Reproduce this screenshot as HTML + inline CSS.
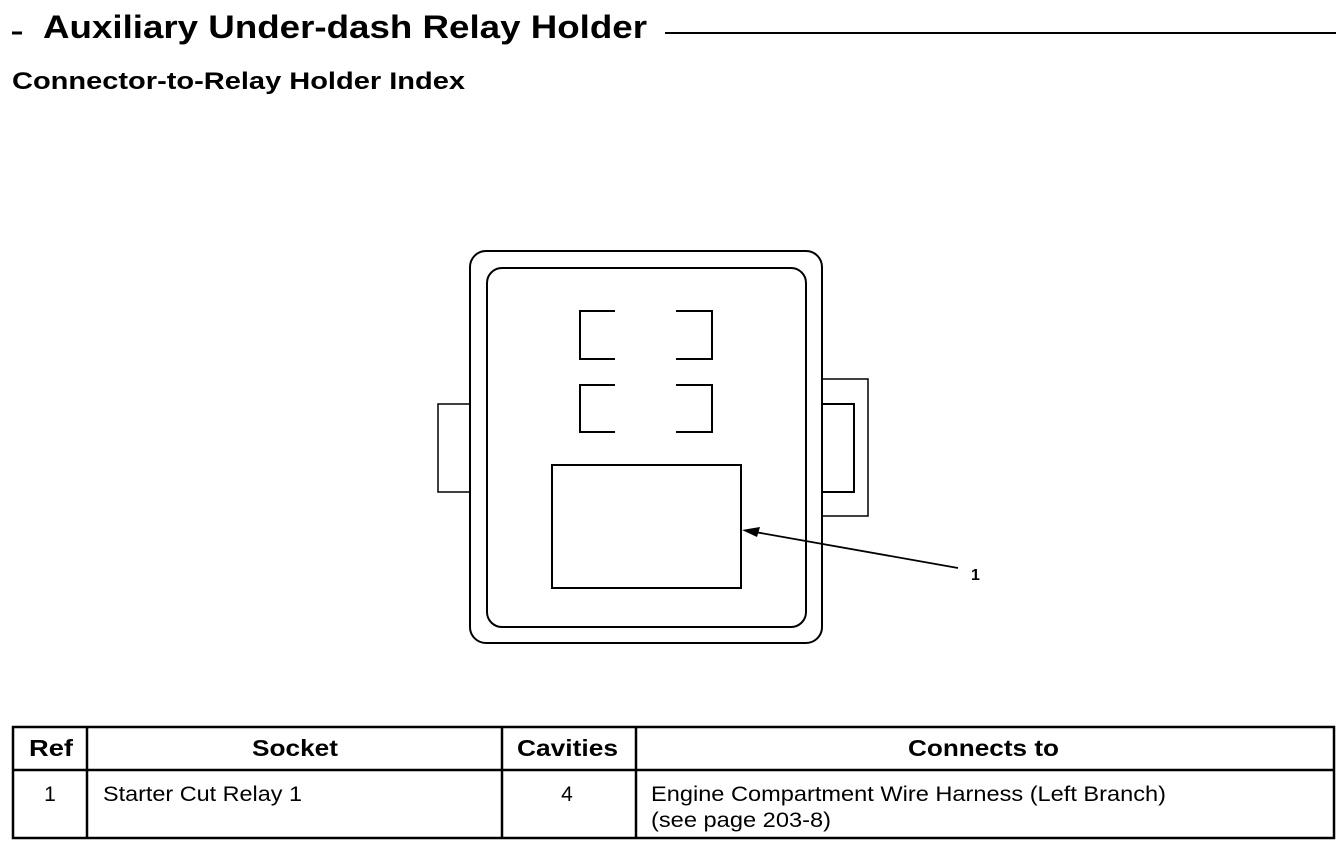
<!DOCTYPE html>
<html><head><meta charset="utf-8"><style>
html,body{margin:0;padding:0;background:#fff;}
svg{display:block;}
text{font-family:"Liberation Sans",Arial,sans-serif;fill:#000;}
</style></head><body>
<svg width="1344" height="854" viewBox="0 0 1344 854" xmlns="http://www.w3.org/2000/svg">
<rect width="1344" height="854" fill="#fff"/>
<line x1="12" y1="33" x2="22" y2="33" stroke="#000" stroke-width="3"/>
<text x="43" y="38" font-size="32" font-weight="bold" textLength="604" lengthAdjust="spacingAndGlyphs">Auxiliary Under-dash Relay Holder</text>
<line x1="665" y1="33" x2="1336" y2="33" stroke="#000" stroke-width="2"/>
<text x="12" y="89" font-size="24" font-weight="bold" textLength="453" lengthAdjust="spacingAndGlyphs">Connector-to-Relay Holder Index</text>
<g fill="none" stroke="#000" stroke-width="2">
<rect x="470" y="251" width="352" height="392" rx="16"/>
<rect x="487" y="268" width="319" height="359" rx="15"/>
<polyline points="615,311 580,311 580,359 615,359"/>
<polyline points="676,311 712,311 712,359 676,359"/>
<polyline points="615,385 580,385 580,432 615,432"/>
<polyline points="676,385 712,385 712,432 676,432"/>
<rect x="552" y="465" width="189" height="123"/>
<polyline points="470,404 438,404 438,492 470,492" stroke-width="1.5"/>
<polyline points="822,379 868,379 868,516 822,516" stroke-width="1.5"/>
<polyline points="822,404 854,404 854,492 822,492"/>
<line x1="958" y1="568" x2="755" y2="532" stroke-width="1.8"/>
</g>
<polygon points="742,530 760,527 757,537" fill="#000"/>
<text x="971" y="580" font-size="16" font-weight="bold">1</text>
<g fill="none" stroke="#000" stroke-width="2.5">
<rect x="13" y="727" width="1321" height="111"/>
<line x1="13" y1="770" x2="1334" y2="770"/>
<line x1="87" y1="727" x2="87" y2="838"/>
<line x1="502" y1="727" x2="502" y2="838"/>
<line x1="636" y1="727" x2="636" y2="838"/>
</g>
<g font-size="23" font-weight="bold">
<text x="29" y="756" textLength="44" lengthAdjust="spacingAndGlyphs">Ref</text>
<text x="252" y="756" textLength="86" lengthAdjust="spacingAndGlyphs">Socket</text>
<text x="517" y="756" textLength="101" lengthAdjust="spacingAndGlyphs">Cavities</text>
<text x="908" y="756" textLength="151" lengthAdjust="spacingAndGlyphs">Connects to</text>
</g>
<g font-size="21">
<text x="50" y="801" text-anchor="middle">1</text>
<text x="103" y="801" textLength="199" lengthAdjust="spacingAndGlyphs">Starter Cut Relay 1</text>
<text x="567" y="801" text-anchor="middle">4</text>
<text x="651" y="801" textLength="515" lengthAdjust="spacingAndGlyphs">Engine Compartment Wire Harness (Left Branch)</text>
<text x="651" y="827" textLength="180" lengthAdjust="spacingAndGlyphs">(see page 203-8)</text>
</g>
</svg>
</body></html>
